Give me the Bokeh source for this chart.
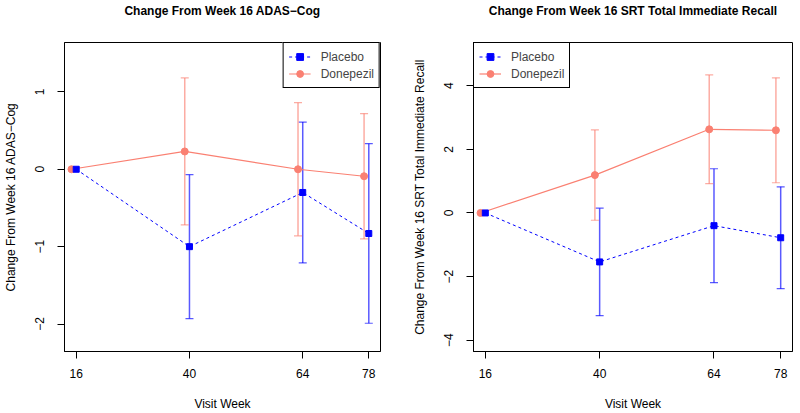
from bokeh.plotting import figure
from bokeh.layouts import row
from bokeh.models import (ColumnDataSource, Whisker, TeeHead, FixedTicker,
                          Range1d, Legend, LegendItem, LinearAxis)
from bokeh.embed import file_html
from bokeh.resources import INLINE

# ---------------- data ----------------
weeks = [16, 40, 64, 78]
week_tick_labels = ["16", "40", "64", "78"]

adas_placebo = [0.0, -1.00, -0.30, -0.83]
adas_placebo_err = [0.0, 0.93, 0.91, 1.16]
adas_donepezil = [0.0, 0.23, 0.00, -0.09]
adas_donepezil_err = [0.0, 0.95, 0.86, 0.81]
adas_yticks = [-2, -1, 0, 1]
adas_ytick_labels = ["\u22122", "\u22121", "0", "1"]

srt_placebo = [0.0, -1.54, -0.40, -0.78]
srt_placebo_err = [0.0, 1.69, 1.79, 1.60]
srt_donepezil = [0.0, 1.19, 2.63, 2.60]
srt_donepezil_err = [0.0, 1.42, 1.71, 1.65]
srt_yticks = [-4, -2, 0, 2, 4]
srt_ytick_labels = ["\u22124", "\u22122", "0", "2", "4"]

series_names = ["Placebo", "Donepezil"]
x_label = "Visit Week"
adas_title = "Change From Week 16 ADAS\u2212Cog"
srt_title = "Change From Week 16 SRT Total Immediate Recall"

# ---------------- style ----------------
FONT = "Liberation Sans"
PLACEBO_COLOR = "#0000FF"
DONEPEZIL_COLOR = "#FA8072"
DODGE = -1.0  # donepezil horizontal offset (weeks)
XRANGE = (13.52, 80.48)
FIG_W, FIG_H = 400, 413


def err_source(xs, ys, es, dx):
    xx, up, lo = [], [], []
    for x, y, e in zip(xs, ys, es):
        if e > 0:
            xx.append(x + dx)
            up.append(y + e)
            lo.append(y - e)
    return ColumnDataSource(dict(x=xx, upper=up, lower=lo))


def make_panel(title, ylabel, pl, pl_e, dn, dn_e, yrange, yticks, ylabels,
               legend_loc, borders):
    bl, br, bt, bb = borders
    p = figure(width=FIG_W, height=FIG_H, output_backend="svg",
               toolbar_location=None, tools="",
               x_range=Range1d(*XRANGE), y_range=Range1d(*yrange),
               min_border_left=bl, min_border_right=br,
               min_border_top=bt, min_border_bottom=bb)
    p.xgrid.visible = False
    p.ygrid.visible = False
    p.outline_line_color = "black"
    p.outline_line_alpha = 1
    p.outline_line_width = 1
    p.background_fill_color = "white"
    p.border_fill_color = "white"

    xax = p.below[0]
    yax = p.left[0]
    for ax in (xax, yax):
        ax.axis_line_color = "black"
        ax.major_tick_line_color = "black"
        ax.major_tick_out = 7
        ax.major_tick_in = 0
        ax.minor_tick_line_color = None
        ax.major_label_text_font = FONT
        ax.major_label_text_font_size = "12px"
        ax.major_label_text_color = "black"
        ax.axis_label_text_font = FONT
        ax.axis_label_text_font_size = "12px"
        ax.axis_label_text_font_style = "normal"
        ax.axis_label_text_color = "black"

    xax.ticker = FixedTicker(ticks=weeks)
    xax.major_label_overrides = {w: l for w, l in zip(weeks, week_tick_labels)}
    xax.axis_label = x_label
    xax.major_label_standoff = 10
    xax.axis_label_standoff = 16

    yax.ticker = FixedTicker(ticks=yticks)
    yax.major_label_overrides = {t: l for t, l in zip(yticks, ylabels)}
    yax.major_label_orientation = "vertical"
    yax.axis_label = ylabel
    yax.major_label_standoff = 13
    yax.axis_label_standoff = 15

    # title drawn as the label of a tick-less axis above the frame
    title_axis = LinearAxis(ticker=FixedTicker(ticks=[]), axis_label=title,
                            axis_line_color=None, major_tick_line_color=None,
                            minor_tick_line_color=None, major_tick_out=0,
                            major_tick_in=0, major_label_standoff=0,
                            axis_label_standoff=25,
                            axis_label_text_font=FONT,
                            axis_label_text_font_size="12px",
                            axis_label_text_font_style="bold",
                            axis_label_text_color="black")
    p.add_layout(title_axis, "above")

    dn_x = [w + DODGE for w in weeks]

    # error bars
    for src, col in ((err_source(weeks, pl, pl_e, 0.0), PLACEBO_COLOR),
                     (err_source(weeks, dn, dn_e, DODGE), DONEPEZIL_COLOR)):
        wk = Whisker(source=src, base="x", upper="upper", lower="lower",
                     dimension="height", line_color=col, line_alpha=0.65,
                     line_width=1.5, level="underlay",
                     upper_head=TeeHead(size=8, line_color=col, line_alpha=0.65, line_width=1.2),
                     lower_head=TeeHead(size=8, line_color=col, line_alpha=0.65, line_width=1.2))
        p.add_layout(wk)

    dn_line = p.line(dn_x, dn, line_color=DONEPEZIL_COLOR, line_width=1.2)
    dn_pts = p.scatter(dn_x, dn, marker="circle", size=7,
                       fill_color=DONEPEZIL_COLOR, line_color=DONEPEZIL_COLOR)
    pl_line = p.line(weeks, pl, line_color=PLACEBO_COLOR, line_width=1,
                     line_dash="3 3")
    pl_pts = p.scatter(weeks, pl, marker="square", size=6,
                       fill_color=PLACEBO_COLOR, line_color=PLACEBO_COLOR)

    legend = Legend(items=[LegendItem(label=series_names[0], renderers=[pl_line, pl_pts]),
                           LegendItem(label=series_names[1], renderers=[dn_line, dn_pts])],
                    location=legend_loc, margin=0, padding=5, spacing=0,
                    glyph_width=22, glyph_height=17, label_height=17,
                    label_standoff=10, label_text_font=FONT,
                    label_text_font_size="12px",
                    border_line_color="black", border_line_width=1,
                    border_line_alpha=1, background_fill_alpha=1)
    p.add_layout(legend)
    return p


p1 = make_panel(adas_title, "Change From Week 16 ADAS\u2212Cog",
                adas_placebo, adas_placebo_err, adas_donepezil, adas_donepezil_err,
                (-2.355, 1.638), adas_yticks, adas_ytick_labels, "top_right",
                (62, 20, 41, 62))
p2 = make_panel(srt_title, "Change From Week 16 SRT Total Immediate Recall",
                srt_placebo, srt_placebo_err, srt_donepezil, srt_donepezil_err,
                (-4.357, 5.36), srt_yticks, srt_ytick_labels, "top_left",
                (73, 8, 41, 62))

layout = row(p1, p2)
open("out.html", "w").write(file_html(layout, INLINE))
